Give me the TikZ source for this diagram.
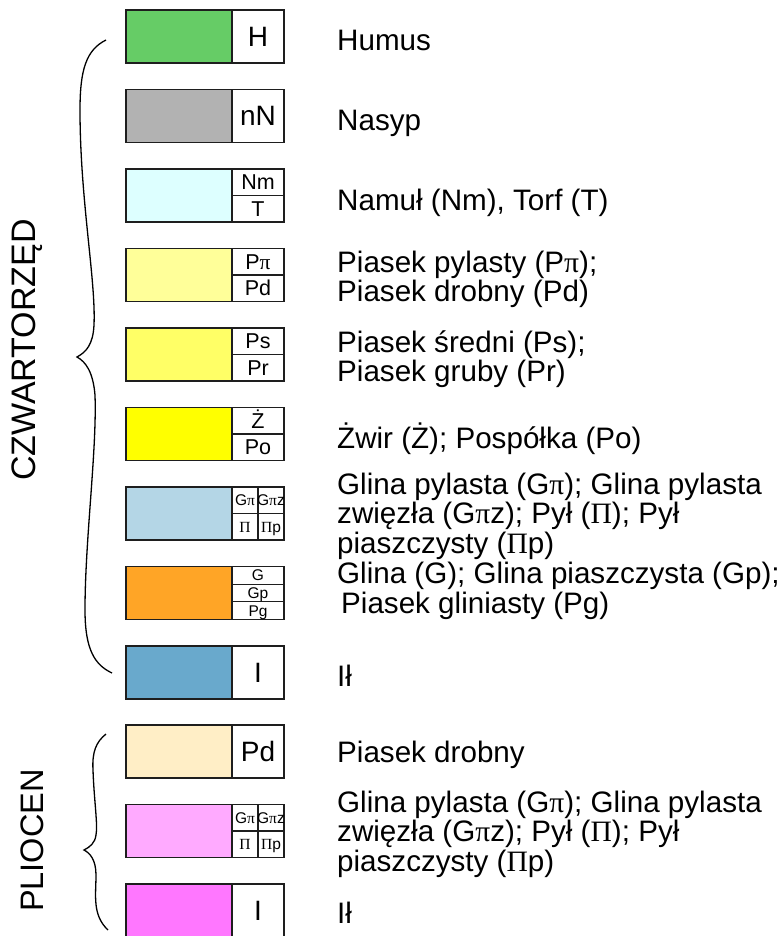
\documentclass[tikz,border=0pt]{standalone}
\usepackage{fontspec}
\setmainfont{Liberation Sans}
\newfontfamily\grk{Liberation Serif}
\newcommand{\gpi}{{\grk π}}
\newcommand{\gPi}{{\grk Π}}
\definecolor{cHumus}{RGB}{102,204,102}
\definecolor{cNasyp}{RGB}{178,178,178}
\definecolor{cNamul}{RGB}{221,255,255}
\definecolor{cPpyl}{RGB}{255,255,153}
\definecolor{cPsr}{RGB}{255,255,102}
\definecolor{cZwir}{RGB}{255,255,0}
\definecolor{cGlina}{RGB}{180,214,230}
\definecolor{cGlp}{RGB}{255,165,38}
\definecolor{cIl}{RGB}{105,169,204}
\definecolor{cPdr}{RGB}{255,238,198}
\definecolor{cGlPl}{RGB}{255,170,255}
\definecolor{cIlPl}{RGB}{255,119,255}
\definecolor{edge}{RGB}{30,30,30}
\begin{document}
\begin{tikzpicture}[x=1pt,y=-1pt,
  soil/.style={draw=edge, line width=1.3pt, minimum width=106pt, minimum height=53pt, inner sep=0pt, outer sep=0pt},
  code/.style={draw=edge, line width=1.3pt, fill=white, minimum width=52pt, minimum height=53pt, inner sep=0pt, outer sep=0pt},
  big/.style={anchor=base, inner sep=0pt, font=\fontsize{28}{28}\selectfont},
  mid/.style={anchor=base, inner sep=0pt, font=\fontsize{21.5}{21.5}\selectfont},
  tiny/.style={anchor=base, inner sep=0pt, font=\fontsize{15.5}{15.5}\selectfont},
  lbl/.style={anchor=base west, inner sep=0pt, font=\fontsize{29.6}{30}\selectfont},
  era/.style={anchor=base, rotate=90, inner sep=0pt},
  brace/.style={draw=black, line width=1.3pt},
  divl/.style={draw=edge, line width=1.3pt}
]
\fill[white] (0,0) rectangle (783,936);
\useasboundingbox (0,0) rectangle (783,936);

% ---------- boxes ----------
% 0 Humus
\node[soil, fill=cHumus] (s0) at (179,36.5) {};
\node[code] (w0) at (258,36.5) {};
\node[big] (t0) at (258,46.5) {H};
% 1 Nasyp
\node[soil, fill=cNasyp] (s1) at (179,116) {};
\node[code] (w1) at (258,116) {};
\node[big] (t1) at (258,126) {nN};
% 2 Namul
\node[soil, fill=cNamul] (s2) at (179,195.5) {};
\node[code] (w2) at (258,195.5) {};
\draw[divl] (w2.west) -- (w2.east);
\node[mid] (t2a) at (258,189.75) {Nm};
\node[mid] (t2b) at (258,216.25) {T};
% 3 Piasek pylasty
\node[soil, fill=cPpyl] (s3) at (179,275) {};
\node[code] (w3) at (258,275) {};
\draw[divl] (w3.west) -- (w3.east);
\node[mid] (t3a) at (258,269.25) {P\gpi};
\node[mid] (t3b) at (258,295.75) {Pd};
% 4 Piasek sredni
\node[soil, fill=cPsr] (s4) at (179,354.5) {};
\node[code] (w4) at (258,354.5) {};
\draw[divl] (w4.west) -- (w4.east);
\node[mid] (t4a) at (258,348.75) {Ps};
\node[mid] (t4b) at (258,375.25) {Pr};
% 5 Zwir
\node[soil, fill=cZwir] (s5) at (179,434) {};
\node[code] (w5) at (258,434) {};
\draw[divl] (w5.west) -- (w5.east);
\node[mid] (t5a) at (258,428.25) {Ż};
\node[mid] (t5b) at (258,454.75) {Po};
% 6 Glina pylasta
\node[soil, fill=cGlina] (s6) at (179,513.5) {};
\node[code] (w6) at (258,513.5) {};
\draw[divl] (w6.west) -- (w6.east);
\draw[divl] (w6.north) -- (w6.south);
\node[tiny] (t6a) at (245,505.6) {G\gpi};
\node[tiny] (t6b) at (271,505.6) {G\gpi z};
\node[tiny] (t6c) at (245,532.1) {\gPi};
\node[tiny] (t6d) at (271,532.1) {\gPi p};
% 7 Glina
\node[soil, fill=cGlp] (s7) at (179,593) {};
\node[code] (w7) at (258,593) {};
\draw[divl] (232,584.17) -- (284,584.17);
\draw[divl] (232,601.83) -- (284,601.83);
\node[tiny] (t7a) at (258,580.9) {G};
\node[tiny] (t7b) at (258,598.6) {Gp};
\node[tiny] (t7c) at (258,616.3) {Pg};
% 8 Il
\node[soil, fill=cIl] (s8) at (179,672.5) {};
\node[code] (w8) at (258,672.5) {};
\node[big] (t8) at (258,682.5) {I};
% 9 Piasek drobny (pliocen)
\node[soil, fill=cPdr] (s9) at (179,751.5) {};
\node[code] (w9) at (258,751.5) {};
\node[big] (t9) at (258,761.5) {Pd};
% 10 Glina pylasta (pliocen)
\node[soil, fill=cGlPl] (s10) at (179,831) {};
\node[code] (w10) at (258,831) {};
\draw[divl] (w10.west) -- (w10.east);
\draw[divl] (w10.north) -- (w10.south);
\node[tiny] (t10a) at (245,823.1) {G\gpi};
\node[tiny] (t10b) at (271,823.1) {G\gpi z};
\node[tiny] (t10c) at (245,849.6) {\gPi};
\node[tiny] (t10d) at (271,849.6) {\gPi p};
% 11 Il (pliocen)
\node[soil, fill=cIlPl] (s11) at (179,910.5) {};
\node[code] (w11) at (258,910.5) {};
\node[big] (t11) at (258,920.5) {I};

% ---------- labels ----------
\node[lbl] (l0) at (337,51) {Humus};
\node[lbl] (l1) at (337,130.5) {Nasyp};
\node[lbl] (l2) at (337,210) {Namuł (Nm), Torf (T)};
\node[lbl] (l3a) at (337,272) {Piasek pylasty (P\gpi);};
\node[lbl] (l3b) at (337,301.5) {Piasek drobny (Pd)};
\node[lbl] (l4a) at (337,352) {Piasek średni (Ps);};
\node[lbl] (l4b) at (337,381) {Piasek gruby (Pr)};
\node[lbl] (l5) at (337,448) {Żwir (Ż); Pospółka (Po)};
\node[lbl] (l6a) at (337,494) {Glina pylasta (G\gpi); Glina pylasta};
\node[lbl] (l6b) at (337,523.5) {zwięzła (G\gpi z); Pył (\gPi); Pył};
\node[lbl] (l6c) at (337,553) {piaszczysty (\gPi p)};
\node[lbl] (l7a) at (337,583) {Glina (G); Glina piaszczysta (Gp);};
\node[lbl] (l7b) at (341,613) {Piasek gliniasty (Pg)};
\node[lbl] (l8) at (337,686) {Ił};
\node[lbl] (l9) at (337,762) {Piasek drobny};
\node[lbl] (l10a) at (337,812) {Glina pylasta (G\gpi); Glina pylasta};
\node[lbl] (l10b) at (337,841.5) {zwięzła (G\gpi z); Pył (\gPi); Pył};
\node[lbl] (l10c) at (337,871) {piaszczysty (\gPi p)};
\node[lbl] (l11) at (337,923) {Ił};

% ---------- eras ----------
\node[era, font=\fontsize{34}{34}\selectfont] (e1) at (35,350) {CZWARTORZĘD};
\node[era, font=\fontsize{32.5}{32.5}\selectfont] (e2) at (43,840.5) {PLIOCEN};

% ---------- braces ----------
\draw[brace] (106,40) .. controls (86,50) and (80,70) .. (80,110)
  .. controls (80,200) and (96,280) .. (94,325)
  .. controls (93,345) and (86,352) .. (77,357)
  .. controls (86,362) and (93,372) .. (95,395)
  .. controls (97,450) and (85,540) .. (85,610)
  .. controls (85,650) and (95,665) .. (112,673);
\draw[brace] (106,734) .. controls (96,742) and (92,752) .. (93,770)
  .. controls (94,800) and (98,825) .. (96,835)
  .. controls (95,843) and (90,847) .. (84,850)
  .. controls (90,853) and (96,860) .. (96,875)
  .. controls (96,895) and (92,915) .. (108,930);
\end{tikzpicture}
\end{document}
